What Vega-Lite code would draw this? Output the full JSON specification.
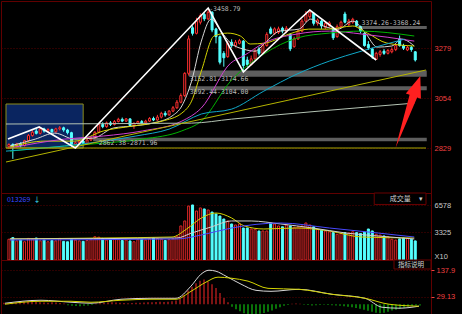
{
"$schema":"https://vega.github.io/schema/vega-lite/v6.json",
"background":"#000000",
"padding":0,
"spacing":0,
"bounds":"flush",
"config":{
 "view":{"stroke":"#600000","strokeWidth":1},
 "axisY":{"grid":true,"gridColor":"#580000","gridDash":[1,2],"domain":false,"labelFont":"Liberation Sans","labelFontSize":7.5,"tickSize":0,"labelPadding":3,"minExtent":32,"maxExtent":32},
 "legend":{"disable":true}
},
"datasets":{
 "k":[
{"i":0,"o":2835,"h":2850,"l":2825,"c":2845,"v":2500,"m":6},
{"i":1,"o":2845,"h":2850,"l":2780,"c":2835,"v":2700,"m":4},
{"i":2,"o":2835,"h":2852,"l":2830,"c":2848,"v":2300,"m":5},
{"i":3,"o":2848,"h":2855,"l":2832,"c":2840,"v":2400,"m":7},
{"i":4,"o":2840,"h":2866,"l":2836,"c":2862,"v":2200,"m":8},
{"i":5,"o":2862,"h":2892,"l":2858,"c":2885,"v":2600,"m":10},
{"i":6,"o":2885,"h":2910,"l":2880,"c":2900,"v":2500,"m":12},
{"i":7,"o":2905,"h":2915,"l":2890,"c":2895,"v":2650,"m":10},
{"i":8,"o":2895,"h":2922,"l":2890,"c":2915,"v":2300,"m":9},
{"i":9,"o":2915,"h":2920,"l":2898,"c":2905,"v":2400,"m":8},
{"i":10,"o":2905,"h":2918,"l":2900,"c":2912,"v":2200,"m":7},
{"i":11,"o":2912,"h":2916,"l":2895,"c":2902,"v":2350,"m":6},
{"i":12,"o":2902,"h":2920,"l":2898,"c":2915,"v":2300,"m":8},
{"i":13,"o":2915,"h":2928,"l":2908,"c":2920,"v":2600,"m":7},
{"i":14,"o":2920,"h":2925,"l":2902,"c":2910,"v":2250,"m":5},
{"i":15,"o":2910,"h":2915,"l":2890,"c":2898,"v":2200,"m":3},
{"i":16,"o":2898,"h":2902,"l":2835,"c":2845,"v":2500,"m":-4},
{"i":17,"o":2845,"h":2858,"l":2829,"c":2852,"v":2400,"m":-6},
{"i":18,"o":2852,"h":2865,"l":2845,"c":2860,"v":2300,"m":-7},
{"i":19,"o":2860,"h":2866,"l":2845,"c":2850,"v":2250,"m":-8},
{"i":20,"o":2850,"h":2870,"l":2846,"c":2865,"v":2350,"m":-6},
{"i":21,"o":2865,"h":2880,"l":2860,"c":2875,"v":2450,"m":-5},
{"i":22,"o":2875,"h":2905,"l":2870,"c":2900,"v":2800,"m":-3},
{"i":23,"o":2900,"h":2942,"l":2895,"c":2935,"v":2750,"m":3},
{"i":24,"o":2935,"h":2945,"l":2918,"c":2925,"v":2600,"m":5},
{"i":25,"o":2925,"h":2948,"l":2920,"c":2942,"v":2400,"m":6},
{"i":26,"o":2942,"h":2950,"l":2928,"c":2935,"v":2500,"m":7},
{"i":27,"o":2935,"h":2955,"l":2930,"c":2948,"v":2550,"m":8},
{"i":28,"o":2948,"h":2965,"l":2944,"c":2958,"v":2450,"m":7},
{"i":29,"o":2958,"h":2966,"l":2945,"c":2950,"v":2350,"m":6},
{"i":30,"o":2950,"h":2964,"l":2946,"c":2960,"v":2400,"m":5},
{"i":31,"o":2960,"h":2962,"l":2925,"c":2930,"v":2300,"m":4},
{"i":32,"o":2930,"h":2945,"l":2915,"c":2940,"v":2200,"m":5},
{"i":33,"o":2940,"h":2952,"l":2935,"c":2948,"v":2450,"m":6},
{"i":34,"o":2948,"h":2955,"l":2938,"c":2942,"v":2500,"m":6},
{"i":35,"o":2942,"h":2956,"l":2938,"c":2950,"v":2400,"m":7},
{"i":36,"o":2950,"h":2968,"l":2946,"c":2962,"v":2550,"m":8},
{"i":37,"o":2962,"h":2970,"l":2950,"c":2955,"v":2650,"m":8},
{"i":38,"o":2955,"h":2978,"l":2952,"c":2968,"v":2600,"m":9},
{"i":39,"o":2968,"h":2992,"l":2962,"c":2985,"v":2500,"m":10},
{"i":40,"o":2985,"h":2995,"l":2970,"c":2978,"v":2350,"m":9},
{"i":41,"o":2978,"h":3000,"l":2974,"c":2995,"v":2450,"m":10},
{"i":42,"o":2995,"h":3018,"l":2990,"c":3010,"v":2550,"m":12},
{"i":43,"o":3010,"h":3045,"l":3005,"c":3035,"v":2890,"m":15},
{"i":44,"o":3035,"h":3075,"l":3030,"c":3065,"v":4100,"m":22},
{"i":45,"o":3065,"h":3170,"l":3058,"c":3165,"v":4700,"m":38},
{"i":46,"o":3165,"h":3335,"l":3155,"c":3320,"v":6500,"m":55},
{"i":47,"o":3370,"h":3380,"l":3335,"c":3345,"v":6630,"m":70},
{"i":48,"o":3345,"h":3415,"l":3340,"c":3400,"v":5900,"m":85},
{"i":49,"o":3395,"h":3435,"l":3385,"c":3425,"v":6270,"m":95},
{"i":50,"o":3430,"h":3440,"l":3400,"c":3410,"v":6150,"m":100},
{"i":51,"o":3410,"h":3459,"l":3405,"c":3440,"v":6025,"m":92},
{"i":52,"o":3440,"h":3445,"l":3350,"c":3360,"v":5780,"m":80},
{"i":53,"o":3365,"h":3370,"l":3300,"c":3330,"v":5540,"m":65},
{"i":54,"o":3330,"h":3335,"l":3205,"c":3215,"v":5300,"m":45},
{"i":55,"o":3255,"h":3265,"l":3195,"c":3235,"v":4940,"m":25},
{"i":56,"o":3240,"h":3310,"l":3235,"c":3300,"v":4700,"m":8},
{"i":57,"o":3305,"h":3318,"l":3280,"c":3290,"v":4340,"m":-10},
{"i":58,"o":3290,"h":3315,"l":3282,"c":3305,"v":4220,"m":-20},
{"i":59,"o":3300,"h":3320,"l":3295,"c":3312,"v":4340,"m":-28},
{"i":60,"o":3310,"h":3315,"l":3171,"c":3200,"v":3856,"m":-36},
{"i":61,"o":3225,"h":3240,"l":3195,"c":3205,"v":3856,"m":-40},
{"i":62,"o":3205,"h":3245,"l":3200,"c":3230,"v":3735,"m":-42},
{"i":63,"o":3230,"h":3275,"l":3225,"c":3265,"v":3700,"m":-40},
{"i":64,"o":3275,"h":3285,"l":3245,"c":3255,"v":3495,"m":-38},
{"i":65,"o":3255,"h":3300,"l":3250,"c":3290,"v":3495,"m":-35},
{"i":66,"o":3290,"h":3350,"l":3285,"c":3340,"v":3495,"m":-30},
{"i":67,"o":3365,"h":3375,"l":3340,"c":3345,"v":4460,"m":-25},
{"i":68,"o":3345,"h":3372,"l":3338,"c":3365,"v":4340,"m":-18},
{"i":69,"o":3350,"h":3375,"l":3342,"c":3365,"v":4100,"m":-12},
{"i":70,"o":3368,"h":3375,"l":3345,"c":3355,"v":4000,"m":-6},
{"i":71,"o":3352,"h":3378,"l":3345,"c":3368,"v":4220,"m":-3},
{"i":72,"o":3340,"h":3345,"l":3265,"c":3275,"v":4100,"m":2},
{"i":73,"o":3285,"h":3330,"l":3280,"c":3320,"v":3950,"m":3},
{"i":74,"o":3320,"h":3362,"l":3315,"c":3355,"v":4000,"m":2},
{"i":75,"o":3355,"h":3410,"l":3350,"c":3400,"v":4100,"m":-2},
{"i":76,"o":3400,"h":3445,"l":3395,"c":3430,"v":4460,"m":-3},
{"i":77,"o":3420,"h":3450,"l":3410,"c":3440,"v":4220,"m":-5},
{"i":78,"o":3435,"h":3440,"l":3380,"c":3390,"v":4000,"m":-4},
{"i":79,"o":3390,"h":3412,"l":3380,"c":3405,"v":3700,"m":-3},
{"i":80,"o":3400,"h":3405,"l":3365,"c":3378,"v":3600,"m":-2},
{"i":81,"o":3372,"h":3398,"l":3365,"c":3390,"v":3495,"m":-3},
{"i":82,"o":3380,"h":3400,"l":3372,"c":3392,"v":3400,"m":-4},
{"i":83,"o":3365,"h":3370,"l":3315,"c":3325,"v":3300,"m":-5},
{"i":84,"o":3330,"h":3385,"l":3325,"c":3375,"v":3100,"m":-6},
{"i":85,"o":3375,"h":3402,"l":3370,"c":3395,"v":3200,"m":-8},
{"i":86,"o":3432,"h":3442,"l":3390,"c":3395,"v":3300,"m":-10},
{"i":87,"o":3385,"h":3410,"l":3378,"c":3400,"v":3250,"m":-12},
{"i":88,"o":3395,"h":3415,"l":3388,"c":3408,"v":3400,"m":-15},
{"i":89,"o":3400,"h":3405,"l":3372,"c":3380,"v":3300,"m":-18},
{"i":90,"o":3375,"h":3380,"l":3345,"c":3355,"v":3200,"m":-22},
{"i":91,"o":3345,"h":3350,"l":3285,"c":3290,"v":3350,"m":-26},
{"i":92,"o":3295,"h":3310,"l":3270,"c":3280,"v":3735,"m":-30},
{"i":93,"o":3275,"h":3280,"l":3230,"c":3240,"v":3500,"m":-34},
{"i":94,"o":3228,"h":3262,"l":3225,"c":3255,"v":3100,"m":-36},
{"i":95,"o":3250,"h":3270,"l":3240,"c":3262,"v":3000,"m":-34},
{"i":96,"o":3265,"h":3275,"l":3248,"c":3255,"v":2900,"m":-30},
{"i":97,"o":3255,"h":3275,"l":3250,"c":3268,"v":2800,"m":-25},
{"i":98,"o":3262,"h":3282,"l":3255,"c":3272,"v":2500,"m":-22},
{"i":99,"o":3272,"h":3298,"l":3265,"c":3290,"v":2400,"m":-18},
{"i":100,"o":3320,"h":3335,"l":3285,"c":3290,"v":2550,"m":-14},
{"i":101,"o":3290,"h":3298,"l":3270,"c":3278,"v":2650,"m":-10},
{"i":102,"o":3270,"h":3290,"l":3265,"c":3282,"v":2600,"m":-7},
{"i":103,"o":3282,"h":3288,"l":3262,"c":3272,"v":2500,"m":-5},
{"i":104,"o":3262,"h":3265,"l":3218,"c":3225,"v":2300,"m":-5}
 ],
 "ma":[
{"s":"m1","i":0.25,"p":2838},{"s":"m1","i":6.75,"p":2869},{"s":"m1","i":11.75,"p":2896},{"s":"m1","i":16.75,"p":2869},{"s":"m1","i":21.75,"p":2874},{"s":"m1","i":26.75,"p":2919},{"s":"m1","i":31.75,"p":2928},{"s":"m1","i":36.75,"p":2941},{"s":"m1","i":41.75,"p":2973},{"s":"m1","i":44.25,"p":3018},{"s":"m1","i":46.75,"p":3130},{"s":"m1","i":49.25,"p":3310},{"s":"m1","i":51.75,"p":3409},{"s":"m1","i":54.25,"p":3355},{"s":"m1","i":56.75,"p":3301},{"s":"m1","i":60,"p":3274},{"s":"m1","i":63,"p":3265},{"s":"m1","i":65.5,"p":3301},{"s":"m1","i":69.25,"p":3355},{"s":"m1","i":74.25,"p":3364},{"s":"m1","i":77.25,"p":3409},{"s":"m1","i":80.5,"p":3378},{"s":"m1","i":84.25,"p":3364},{"s":"m1","i":88,"p":3400},{"s":"m1","i":91.25,"p":3346},{"s":"m1","i":94.25,"p":3283},{"s":"m1","i":98,"p":3288},{"s":"m1","i":100.5,"p":3319},{"s":"m1","i":103.75,"p":3288},
{"s":"m2","i":0.25,"p":2833},{"s":"m2","i":9.25,"p":2860},{"s":"m2","i":16.75,"p":2860},{"s":"m2","i":24.25,"p":2906},{"s":"m2","i":31.75,"p":2928},{"s":"m2","i":39.25,"p":2950},{"s":"m2","i":44.25,"p":2986},{"s":"m2","i":46.75,"p":3040},{"s":"m2","i":49.25,"p":3175},{"s":"m2","i":52.5,"p":3333},{"s":"m2","i":56,"p":3346},{"s":"m2","i":59.25,"p":3333},{"s":"m2","i":61.75,"p":3297},{"s":"m2","i":65.5,"p":3301},{"s":"m2","i":71.75,"p":3342},{"s":"m2","i":76.75,"p":3364},{"s":"m2","i":81.75,"p":3364},{"s":"m2","i":88,"p":3378},{"s":"m2","i":91.75,"p":3346},{"s":"m2","i":96.75,"p":3301},{"s":"m2","i":103.75,"p":3288},
{"s":"m3","i":0.25,"p":2829},{"s":"m3","i":14.25,"p":2869},{"s":"m3","i":24.25,"p":2883},{"s":"m3","i":34.25,"p":2906},{"s":"m3","i":44.25,"p":2950},{"s":"m3","i":49.25,"p":3009},{"s":"m3","i":56.75,"p":3211},{"s":"m3","i":60,"p":3243},{"s":"m3","i":65.25,"p":3301},{"s":"m3","i":73.75,"p":3342},{"s":"m3","i":82,"p":3355},{"s":"m3","i":90.25,"p":3342},{"s":"m3","i":103.75,"p":3310},
{"s":"m4","i":0.25,"p":2815},{"s":"m4","i":14.25,"p":2838},{"s":"m4","i":24.25,"p":2851},{"s":"m4","i":34.25,"p":2869},{"s":"m4","i":44.25,"p":2906},{"s":"m4","i":49.25,"p":2950},{"s":"m4","i":56.75,"p":3130},{"s":"m4","i":65.25,"p":3252},{"s":"m4","i":73.75,"p":3324},{"s":"m4","i":82,"p":3346},{"s":"m4","i":90.25,"p":3355},{"s":"m4","i":103.75,"p":3333},
{"s":"m5","i":-0.75,"p":2815},{"s":"m5","i":14.25,"p":2838},{"s":"m5","i":32.5,"p":2883},{"s":"m5","i":41,"p":2914},{"s":"m5","i":49.25,"p":2982},{"s":"m5","i":57,"p":3004},{"s":"m5","i":65.25,"p":3085},{"s":"m5","i":73.75,"p":3162},{"s":"m5","i":82,"p":3220},{"s":"m5","i":90.25,"p":3265},{"s":"m5","i":101.25,"p":3319},
{"s":"m6","i":-0.75,"p":2937},{"s":"m6","i":46.75,"p":2941},{"s":"m6","i":57,"p":2959},{"s":"m6","i":103.75,"p":3031},
{"s":"tr","i":-0.75,"p":2766},{"s":"tr","i":106.75,"p":3180},
{"s":"h","i":-0.75,"p":2829},{"s":"h","i":106.75,"p":2829}
 ],
 "zz":[{"i":-0.25,"p":2869.5},{"i":7.75,"p":2923.5},{"i":17,"p":2829},{"i":51,"p":3458.79},{"i":60,"p":3171},{"i":77,"p":3450},{"i":94,"p":3225}],
 "box":[{"i":-0.75,"i2":19,"p":2829,"p2":3027}],
 "bands":[{"i":46.25,"e":106.75,"p":3152.81,"p2":3174.66},{"i":46.25,"e":106.75,"p":3092.44,"p2":3104.0},{"i":21.75,"e":106.75,"p":2862.38,"p2":2871.96},{"i":89.5,"e":106.75,"p":3368.24,"p2":3374.26}],
 "lbl":[{"i":46.25,"p":3139.5,"t":"3152.81-3174.66"},{"i":46.25,"p":3081,"t":"3092.44-3104.00"},{"i":23,"p":2851.5,"t":"2862.38-2871.96"},{"i":90.25,"p":3391.5,"t":"3374.26-3368.24"},{"i":51.25,"p":3454,"t":"-3458.79"}],
 "arr":[{"i":102.125,"p":2991}],
 "vma":[
{"s":"y","i":0.25,"v":2530},{"s":"y","i":24.25,"v":2650},{"s":"y","i":41.75,"v":2770},{"s":"y","i":45.5,"v":3735},{"s":"y","i":49.25,"v":5060},{"s":"y","i":53,"v":5660},{"s":"y","i":57,"v":5060},{"s":"y","i":60.25,"v":4100},{"s":"y","i":65.25,"v":3735},{"s":"y","i":73.75,"v":3856},{"s":"y","i":82,"v":3495},{"s":"y","i":90.25,"v":2770},{"s":"y","i":103.75,"v":2650},
{"s":"w","i":0.25,"v":2530},{"s":"w","i":43,"v":2650},{"s":"w","i":46.75,"v":3250},{"s":"w","i":51.75,"v":3975},{"s":"w","i":57,"v":4700},{"s":"w","i":62,"v":4700},{"s":"w","i":69.5,"v":4340},{"s":"w","i":77.75,"v":3856},{"s":"w","i":86.25,"v":3250},{"s":"w","i":94.5,"v":2890},{"s":"w","i":103.75,"v":2530},
{"s":"b","i":0.25,"v":2410},{"s":"b","i":43,"v":2530},{"s":"b","i":49.25,"v":3010},{"s":"b","i":57,"v":3856},{"s":"b","i":69.5,"v":4460},{"s":"b","i":82,"v":3856},{"s":"b","i":94.5,"v":3250},{"s":"b","i":103.75,"v":2770}
 ],
 "vbox":[{"i":93.5,"i2":106.75,"v":6690,"v2":8070}],
 "vtx":[{"i":-0.5,"v":7230,"t":"013269","g":"a"},{"i":6.3,"v":7230,"t":"↓","g":"b"},{"i":97.5,"v":7380,"t":"成交量","g":"c"},{"i":104.9,"v":7380,"t":"▾","g":"c"}],
 "macd":[
{"s":"w","i":0.25,"d":4},{"s":"w","i":9.25,"d":16},{"s":"w","i":16.75,"d":8},{"s":"w","i":21.75,"d":4},{"s":"w","i":29.25,"d":20},{"s":"w","i":36.75,"d":24},{"s":"w","i":43,"d":24},{"s":"w","i":46.75,"d":73},{"s":"w","i":49.25,"d":121},{"s":"w","i":51.25,"d":137},{"s":"w","i":53,"d":133},{"s":"w","i":55.5,"d":113},{"s":"w","i":59.25,"d":81},{"s":"w","i":63,"d":56},{"s":"w","i":66.75,"d":52},{"s":"w","i":73.75,"d":60},{"s":"w","i":82,"d":40},{"s":"w","i":90.25,"d":24},{"s":"w","i":94.5,"d":-12},{"s":"w","i":98.75,"d":-16},{"s":"w","i":103.75,"d":-8},
{"s":"y","i":0.25,"d":0},{"s":"y","i":9.25,"d":12},{"s":"y","i":16.75,"d":12},{"s":"y","i":21.75,"d":8},{"s":"y","i":29.25,"d":16},{"s":"y","i":36.75,"d":20},{"s":"y","i":43,"d":20},{"s":"y","i":46.75,"d":52},{"s":"y","i":50.5,"d":89},{"s":"y","i":53.5,"d":109},{"s":"y","i":56.75,"d":105},{"s":"y","i":61,"d":93},{"s":"y","i":66,"d":64},{"s":"y","i":73.75,"d":60},{"s":"y","i":82,"d":40},{"s":"y","i":90.25,"d":24},{"s":"y","i":96.25,"d":0},{"s":"y","i":103.75,"d":-8}
 ],
 "mbox":[{"i":97.5,"i2":106.75,"d":141.9,"d2":178.2}],
 "mtx":[{"i":98.5,"d":160,"t":"指标说明"}]
},
"vconcat":[
 {
  "width":430,"height":192,
  "encoding":{"x":{"field":"i","type":"quantitative","scale":{"domain":[-0.75,106.75],"nice":false,"zero":false},"axis":null}},
  "layer":[
   {"data":{"name":"box"},"mark":{"type":"rect","fill":"#0a2560","stroke":"#8c8c1c","strokeWidth":1},
    "encoding":{"x2":{"field":"i2"},
     "y":{"field":"p","type":"quantitative","scale":{"domain":[2626.5,3490.5],"nice":false,"zero":false},"axis":{"orient":"right","values":[2829,3054,3279],"labelColor":"#f04040","format":"d","title":null}},
     "y2":{"field":"p2"}}},
   {"data":{"name":"bands"},"mark":{"type":"rect","fill":"#5e5e5e","stroke":"#5e5e5e","strokeWidth":1.5},
    "encoding":{"x2":{"field":"e"},"y":{"field":"p","type":"quantitative","scale":{"domain":[2626.5,3490.5],"nice":false,"zero":false},"axis":{"orient":"right","values":[2829,3054,3279],"labelColor":"#f04040","format":"d","title":null}},"y2":{"field":"p2"}}},
   {"data":{"name":"k"},"mark":{"type":"rule","strokeWidth":1},
    "encoding":{"y":{"field":"l","type":"quantitative","scale":{"domain":[2626.5,3490.5],"nice":false,"zero":false},"axis":{"orient":"right","values":[2829,3054,3279],"labelColor":"#f04040","format":"d","title":null}},"y2":{"field":"h"},
     "stroke":{"condition":{"test":"datum.c >= datum.o","value":"#ff3030"},"value":"#54ffff"}}},
   {"data":{"name":"k"},"mark":{"type":"bar","width":2,"strokeWidth":1},
    "encoding":{"y":{"field":"o","type":"quantitative","scale":{"domain":[2626.5,3490.5],"nice":false,"zero":false},"axis":{"orient":"right","values":[2829,3054,3279],"labelColor":"#f04040","format":"d","title":null}},"y2":{"field":"c"},
     "fill":{"condition":{"test":"datum.c >= datum.o","value":"#000000"},"value":"#54ffff"},
     "stroke":{"condition":{"test":"datum.c >= datum.o","value":"#ff3030"},"value":"#54ffff"}}},
   {"data":{"name":"ma"},"mark":{"type":"line","strokeWidth":1,"interpolate":"monotone","clip":true},
    "encoding":{"y":{"field":"p","type":"quantitative","scale":{"domain":[2626.5,3490.5],"nice":false,"zero":false},"axis":{"orient":"right","values":[2829,3054,3279],"labelColor":"#f04040","format":"d","title":null}},
     "color":{"field":"s","type":"nominal","scale":{"domain":["m1","m2","m3","m4","m5","m6","tr","h"],"range":["#d8d8d8","#d4d400","#d040d0","#00b400","#10a8c8","#b4c4b4","#b4b400","#a8a800"]},"legend":null}}},
   {"data":{"name":"zz"},"mark":{"type":"line","strokeWidth":1.6,"color":"#ffffff","clip":true},
    "encoding":{"y":{"field":"p","type":"quantitative","scale":{"domain":[2626.5,3490.5],"nice":false,"zero":false},"axis":{"orient":"right","values":[2829,3054,3279],"labelColor":"#f04040","format":"d","title":null}}}},
   {"data":{"name":"lbl"},"mark":{"type":"text","align":"left","baseline":"middle","font":"DejaVu Sans Mono","fontSize":6.5,"fill":"#b8b8b8"},
    "encoding":{"y":{"field":"p","type":"quantitative","scale":{"domain":[2626.5,3490.5],"nice":false,"zero":false},"axis":{"orient":"right","values":[2829,3054,3279],"labelColor":"#f04040","format":"d","title":null}},"text":{"field":"t"}}},
   {"data":{"name":"arr"},"mark":{"type":"point","shape":"M -0.31 0.9 L 0.23 -0.363 L 0.325 -0.33 L 0.31 -0.9 L -0.053 -0.462 L 0.0415 -0.429 Z","filled":true,"color":"#ff2020","opacity":1,"size":6400},
    "encoding":{"y":{"field":"p","type":"quantitative","scale":{"domain":[2626.5,3490.5],"nice":false,"zero":false},"axis":{"orient":"right","values":[2829,3054,3279],"labelColor":"#f04040","format":"d","title":null}}}}
  ]
 },
 {
  "width":430,"height":67,
  "resolve":{"scale":{"color":"independent"}},
  "encoding":{"x":{"field":"i","type":"quantitative","scale":{"domain":[-0.75,106.75],"nice":false,"zero":false},"axis":null}},
  "layer":[
   {"data":{"name":"k"},"mark":{"type":"bar","width":2,"strokeWidth":1},
    "encoding":{"y":{"field":"v","type":"quantitative","scale":{"domain":[0,8070],"nice":false,"zero":true},"axis":{"orient":"right","values":[0,3325,6578],"labelColor":"#c8c8c8","format":"d","labelFlush":true,"labelExpr":"datum.value == 0 ? 'X10' : datum.label","title":null}},
     "fill":{"condition":{"test":"datum.c >= datum.o","value":"#000000"},"value":"#54ffff"},
     "stroke":{"condition":{"test":"datum.c >= datum.o","value":"#e02828"},"value":"#54ffff"}}},
   {"data":{"name":"vma"},"mark":{"type":"line","strokeWidth":1,"interpolate":"monotone"},
    "encoding":{"y":{"field":"v","type":"quantitative","scale":{"domain":[0,8070],"nice":false,"zero":true},"axis":{"orient":"right","values":[0,3325,6578],"labelColor":"#c8c8c8","format":"d","labelFlush":true,"labelExpr":"datum.value == 0 ? 'X10' : datum.label","title":null}},
     "color":{"field":"s","type":"nominal","scale":{"domain":["y","w","b"],"range":["#d4d400","#d0d0d0","#4848ff"]},"legend":null}}},
   {"data":{"name":"vbox"},"mark":{"type":"rect","fill":"#000000","stroke":"#6a0000","strokeWidth":1},
    "encoding":{"x2":{"field":"i2"},"y":{"field":"v","type":"quantitative","scale":{"domain":[0,8070],"nice":false,"zero":true},"axis":{"orient":"right","values":[0,3325,6578],"labelColor":"#c8c8c8","format":"d","labelFlush":true,"labelExpr":"datum.value == 0 ? 'X10' : datum.label","title":null}},"y2":{"field":"v2"}}},
   {"data":{"name":"vtx"},"mark":{"type":"text","align":"left","baseline":"middle","font":"Noto Sans CJK SC","fontSize":7},
    "encoding":{"y":{"field":"v","type":"quantitative","scale":{"domain":[0,8070],"nice":false,"zero":true},"axis":{"orient":"right","values":[0,3325,6578],"labelColor":"#c8c8c8","format":"d","labelFlush":true,"labelExpr":"datum.value == 0 ? 'X10' : datum.label","title":null}},"text":{"field":"t"},
     "color":{"field":"g","type":"nominal","scale":{"domain":["a","b","c"],"range":["#3848ff","#40e8ff","#d0d0d0"]},"legend":null}}}
  ]
 },
 {
  "width":430,"height":55,
  "encoding":{"x":{"field":"i","type":"quantitative","scale":{"domain":[-0.75,106.75],"nice":false,"zero":false},"axis":null}},
  "layer":[
   {"data":{"name":"k"},"mark":{"type":"rule","strokeWidth":1.2},
    "encoding":{"y":{"field":"m","type":"quantitative","scale":{"domain":[-43.4,178.2],"nice":false,"zero":false},"axis":{"orient":"right","values":[29.13,137.9],"format":".4~r","labelColor":"#f04040","ticks":true,"tickSize":3,"tickColor":"#f04040","labelPadding":2,"title":null}},
     "y2":{"datum":0},
     "stroke":{"condition":{"test":"datum.m >= 0","value":"#d02020"},"value":"#10c010"}}},
   {"data":{"name":"macd"},"mark":{"type":"line","strokeWidth":1,"interpolate":"monotone"},
    "encoding":{"y":{"field":"d","type":"quantitative","scale":{"domain":[-43.4,178.2],"nice":false,"zero":false},"axis":{"orient":"right","values":[29.13,137.9],"format":".4~r","labelColor":"#f04040","ticks":true,"tickSize":3,"tickColor":"#f04040","labelPadding":2,"title":null}},
     "color":{"field":"s","type":"nominal","scale":{"domain":["w","y"],"range":["#c8c8c8","#c8c800"]},"legend":null}}},
   {"data":{"name":"mbox"},"mark":{"type":"rect","fill":"#000000","stroke":"#6a0000","strokeWidth":1},
    "encoding":{"x2":{"field":"i2"},"y":{"field":"d","type":"quantitative","scale":{"domain":[-43.4,178.2],"nice":false,"zero":false},"axis":{"orient":"right","values":[29.13,137.9],"format":".4~r","labelColor":"#f04040","ticks":true,"tickSize":3,"tickColor":"#f04040","labelPadding":2,"title":null}},"y2":{"field":"d2"}}},
   {"data":{"name":"mtx"},"mark":{"type":"text","align":"left","baseline":"middle","font":"Noto Sans CJK SC","fontSize":6.5,"fill":"#d0d0d0"},
    "encoding":{"y":{"field":"d","type":"quantitative","scale":{"domain":[-43.4,178.2],"nice":false,"zero":false},"axis":{"orient":"right","values":[29.13,137.9],"format":".4~r","labelColor":"#f04040","ticks":true,"tickSize":3,"tickColor":"#f04040","labelPadding":2,"title":null}},"text":{"field":"t"}}}
  ]
 }
]
}
